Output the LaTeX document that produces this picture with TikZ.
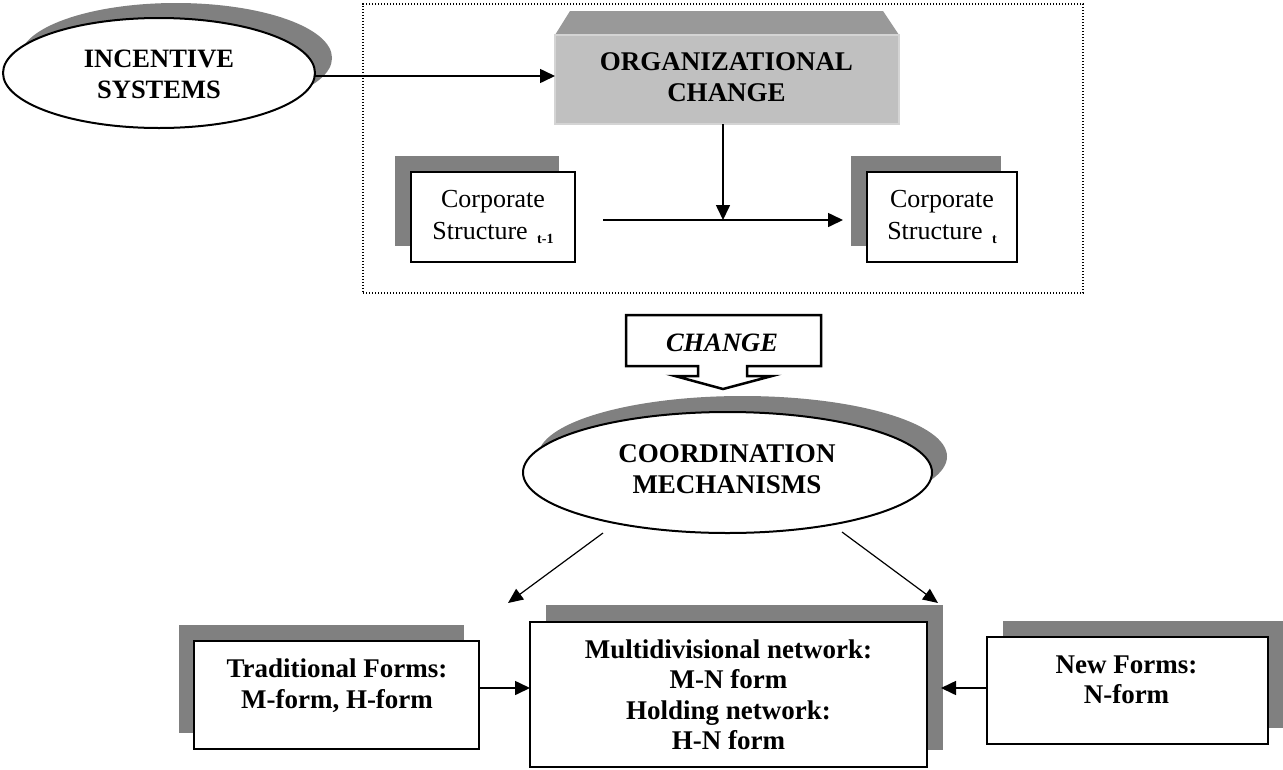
\documentclass[tikz,border=0pt]{standalone}
\usepackage{fontspec}
\setmainfont{Liberation Serif}
\usetikzlibrary{arrows.meta,shapes.geometric,shadows}
\definecolor{shad}{HTML}{808080}
\definecolor{orgfront}{HTML}{C0C0C0}
\definecolor{orgtop}{HTML}{999999}
\definecolor{orgedge}{HTML}{D4D4D4}
\begin{document}
\begin{tikzpicture}[x=1pt,y=-1pt,
  every node/.style={font=\fontsize{26}{31}\selectfont, inner sep=0pt, outer sep=0pt},
  arr/.style={line width=1.6pt, -{Triangle[length=15pt,width=14pt]}},
  darr/.style={line width=1.2pt, -{Triangle[length=15pt,width=13pt]}},
  sbox/.style={draw, line width=2.2pt, fill=white, rectangle},
  shUL/.style={general shadow={shadow xshift=-16pt, shadow yshift=16pt, fill=shad}},
  shUR/.style={general shadow={shadow xshift=16pt, shadow yshift=16pt, fill=shad}},
  ell/.style={draw, ellipse, line width=2pt, fill=white},
  btxt/.style={align=center, font=\fontsize{27}{31}\selectfont\bfseries},
  rtxt/.style={align=center, font=\fontsize{26}{32}\selectfont},
  frame/.style={draw, line width=1.2pt, dash pattern=on 1.2pt off 1.8pt, rectangle},
]
\useasboundingbox (0,0) rectangle (1283,769);

% dotted frame
\node[frame, minimum width=720pt, minimum height=289pt] (frm) at (723,148.5) {};

% incentive systems
\node[ell, general shadow={shadow xshift=17pt, shadow yshift=15pt, fill=shad},
      minimum width=312pt, minimum height=110pt] (inc) at (159,73) {};
\node[btxt, font=\fontsize{26.5}{31}\selectfont\bfseries] (incT) at (159,74) {INCENTIVE\\SYSTEMS};

% organizational change
\fill[orgtop] (555,35) -- (570,11) -- (883,11) -- (899,35) -- cycle;
\node[rectangle, fill=orgfront, draw=orgedge, line width=2pt,
      minimum width=344pt, minimum height=89pt] (org) at (727,79.5) {};
\node[btxt] (orgT) at (726.5,77.5) {ORGANIZATIONAL\\CHANGE};

% corporate structures
\node[sbox, shUL, line width=1.8pt, minimum width=164pt, minimum height=90pt] (c1) at (493,217) {};
\node[rtxt] (c1T) at (493,216.5) {Corporate\\Structure\hspace{3pt} \raisebox{-4pt}{\fontsize{14}{14}\selectfont\bfseries t-1}};
\node[sbox, shUL, line width=1.8pt, minimum width=150pt, minimum height=90pt] (c2) at (942,217) {};
\node[rtxt] (c2T) at (942,216.5) {Corporate\\Structure\hspace{3pt} \raisebox{-4pt}{\fontsize{14}{14}\selectfont\bfseries t}};

% connectors in frame
\coordinate (yI) at (0,76);
\draw[arr] (inc.east |- yI) -- (org.west |- yI);
\coordinate (j) at (723,220);
\coordinate (hs) at (603,220);
\coordinate (he) at (843,220);
\draw[arr] (hs) -- (he);
\draw[arr] (org.south -| j) -- (j);

% CHANGE callout
\draw[line width=2.5pt, line join=miter] (698,366) -- (626,366) -- (626,315) -- (821,315)
  -- (821,366) -- (747,366) -- (747,376) -- (772,376) -- (723,389) -- (675,376)
  -- (698,376) -- cycle;
\node[font=\fontsize{26.5}{31}\selectfont\bfseries\itshape] (chT) at (722,343) {CHANGE};

% coordination mechanisms
\node[ell, general shadow={shadow xshift=15pt, shadow yshift=16pt, fill=shad},
      minimum width=409pt, minimum height=121pt] (coord) at (727.5,472.5) {};
\node[btxt] (coordT) at (727,469) {COORDINATION\\MECHANISMS};

% bottom boxes
\node[sbox, general shadow={shadow xshift=-15pt, shadow yshift=16pt, fill=shad},
      minimum width=285pt, minimum height=108pt] (trad) at (336.5,695) {};
\node[btxt] (tradT) at (337,685.5) {Traditional Forms:\\M-form, H-form};

\node[sbox, general shadow={shadow xshift=16pt, shadow yshift=17pt, fill=shad},
      minimum width=397pt, minimum height=145pt] (multi) at (728.5,694.5) {};
\node[btxt, font=\fontsize{27}{30.5}\selectfont\bfseries] (multiT) at (728.5,695)
  {Multidivisional network:\\M-N form\\Holding network:\\H-N form};

\node[sbox, shUR, minimum width=281pt, minimum height=107pt] (newf) at (1127.5,690.5) {};
\node[btxt, font=\fontsize{27}{30}\selectfont\bfseries] (newT) at (1126.5,679.5) {New Forms:\\N-form};

% bottom connectors
\coordinate (yA) at (0,688);
\coordinate (nt) at (941,688);
\draw[arr] (trad.east |- yA) -- (multi.west |- yA);
\draw[arr] (newf.west |- yA) -- (nt);
\coordinate (d1s) at (603,533);
\coordinate (d1e) at (508,603);
\coordinate (d2s) at (842,532);
\coordinate (d2e) at (938,603);
\draw[darr] (d1s) -- (d1e);
\draw[darr] (d2s) -- (d2e);
\end{tikzpicture}
\end{document}
